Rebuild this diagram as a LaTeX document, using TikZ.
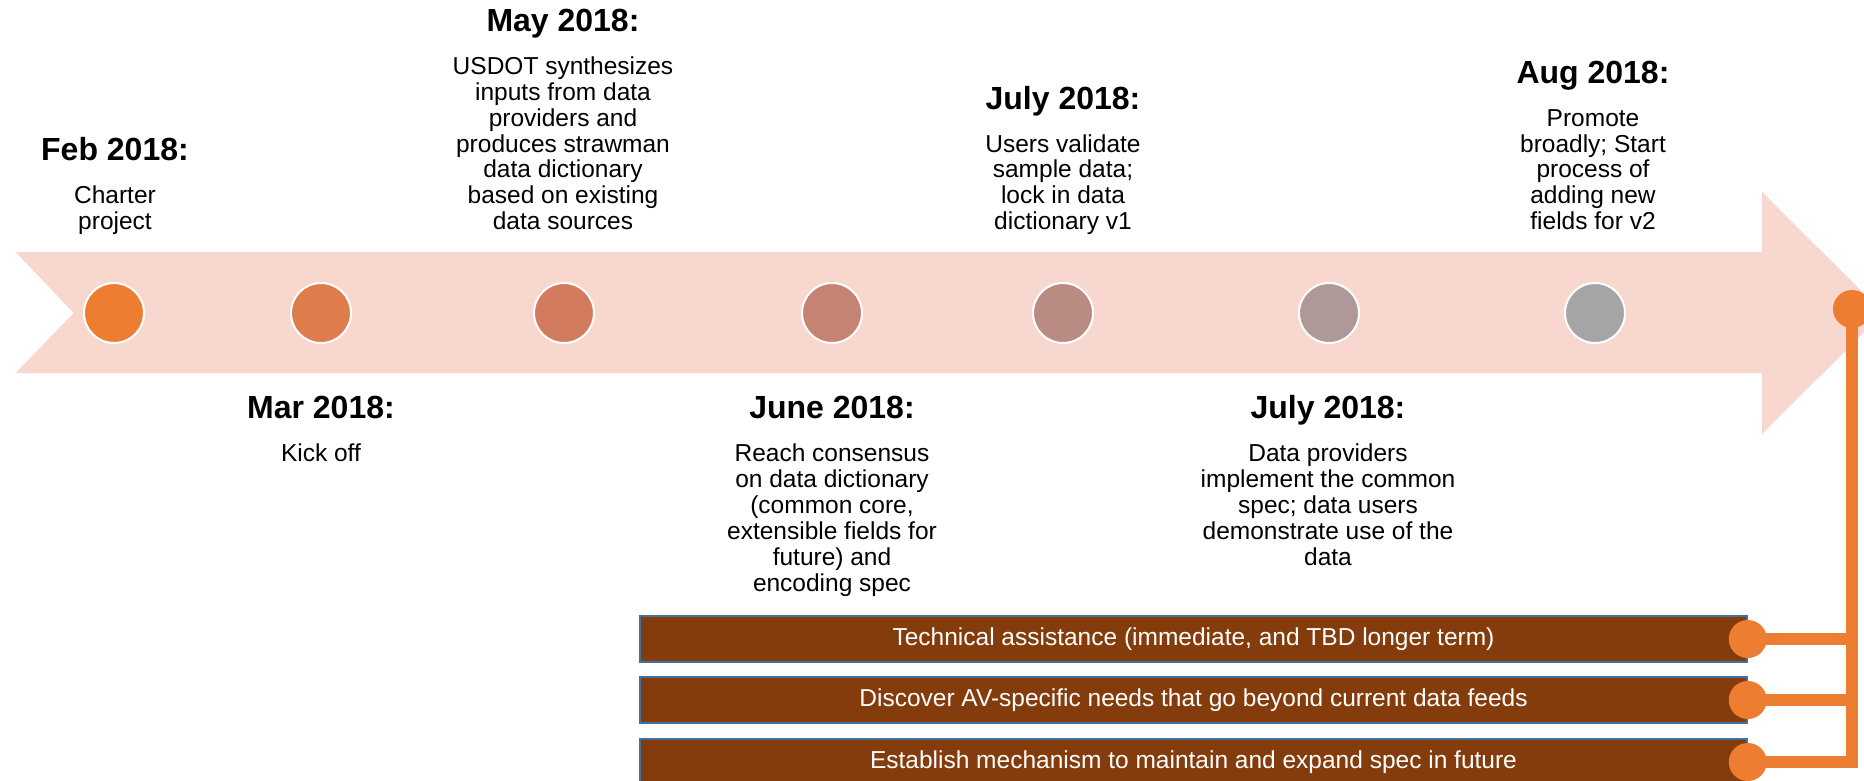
\documentclass[tikz,border=0pt]{standalone}
\usepackage{fontspec}
\setmainfont{Liberation Sans}
\definecolor{band}{HTML}{F8D8CE}
\definecolor{tlorange}{HTML}{ED7D31}
\definecolor{cA}{HTML}{ED7D31}
\definecolor{cB}{HTML}{DE7C4C}
\definecolor{cC}{HTML}{D27B5F}
\definecolor{cD}{HTML}{C58373}
\definecolor{cE}{HTML}{BA8B83}
\definecolor{cF}{HTML}{AE9898}
\definecolor{cG}{HTML}{A5A5A5}
\definecolor{boxfill}{HTML}{843C0C}
\definecolor{boxedge}{HTML}{41719C}
\begin{document}
\begin{tikzpicture}[x=1pt,y=-1pt,
  body/.style={font=\fontsize{24.5}{25}\selectfont, anchor=base, inner sep=0pt, text=black},
  datetitle/.style={font=\fontsize{32}{34}\selectfont\bfseries, anchor=base, inner sep=0pt, text=black},
  milestone/.style={circle, draw=white, line width=2pt, minimum size=60pt, inner sep=0pt},
  taskbox/.style={rectangle, fill=boxfill, draw=boxedge, line width=1.5pt, minimum width=1107pt, minimum height=46pt, inner sep=0pt, text=white, font=\fontsize{24.5}{25}\selectfont},
  enddot/.style={circle, fill=tlorange, minimum size=38pt, inner sep=0pt},
  conn/.style={draw=tlorange, line width=12pt, line join=miter, line cap=butt}
]
\useasboundingbox (0,0) rectangle (1864,781);
\clip (0,0) rectangle (1864,781);
\fill[white] (0,0) rectangle (1864,781);

% band arrow
\fill[band] (15.6,252) -- (1762,252) -- (1762,192) -- (1883.5,313) -- (1762,434) -- (1762,373) -- (15.6,373) -- (73.7,313) -- cycle;

% milestones
\node[milestone, fill=cA] (c1) at (114,313) {};
\node[milestone, fill=cB] (c2) at (321,313) {};
\node[milestone, fill=cC] (c3) at (564,313) {};
\node[milestone, fill=cD] (c4) at (832,313) {};
\node[milestone, fill=cE] (c5) at (1063,313) {};
\node[milestone, fill=cF] (c6) at (1329,313) {};
\node[milestone, fill=cG] (c7) at (1595,313) {};

% top labels (pitch 25.8, last baseline 229.5)
\node[datetitle] (febT) at (115,160.7) {Feb 2018:};
\foreach \t [count=\i] in {Charter, project}
  \node[body] (feb\i) at (115,{203.7+25.8*(\i-1)}) {\t};

\node[datetitle] (mayT) at (563,31.7) {May 2018:};
\foreach \t [count=\i] in {USDOT synthesizes, inputs from data, providers and, produces strawman, data dictionary, based on existing, data sources}
  \node[body] (may\i) at (563,{74.7+25.8*(\i-1)}) {\t};

\node[datetitle] (julaT) at (1063,109.1) {July 2018:};
\foreach \t [count=\i] in {Users validate, sample data;, lock in data, dictionary v1}
  \node[body] (jula\i) at (1063,{152.1+25.8*(\i-1)}) {\t};

\node[datetitle] (augT) at (1593,83.3) {Aug 2018:};
\foreach \t [count=\i] in {Promote, broadly; Start, process of, adding new, fields for v2}
  \node[body] (aug\i) at (1593,{126.3+25.8*(\i-1)}) {\t};

% bottom labels
\node[datetitle] (marT) at (321,418) {Mar 2018:};
\node[body] (mar1) at (321,461) {Kick off};

\node[datetitle] (junT) at (832,418) {June 2018:};
\foreach \t [count=\i] in {Reach consensus, on data dictionary, {(common core,}, extensible fields for, future) and, encoding spec}
  \node[body] (jun\i) at (832,{461+26*(\i-1)}) {\t};

\node[datetitle] (julbT) at (1328,418) {July 2018:};
\foreach \t [count=\i] in {Data providers, implement the common, spec; data users, demonstrate use of the, data}
  \node[body] (julb\i) at (1328,{461+26*(\i-1)}) {\t};

% task boxes
\node[taskbox] (b1) at (1193.5,639) {Technical assistance (immediate, and TBD longer term)};
\node[taskbox] (b2) at (1193.5,700) {Discover AV-specific needs that go beyond current data feeds};
\node[taskbox] (b3) at (1193.5,762) {Establish mechanism to maintain and expand spec in future};

% connector end points
\coordinate (p0) at (1852,309);
\coordinate (p1) at (b1.east);
\coordinate (p2) at (b2.east);
\coordinate (p3) at (b3.east);

\draw[conn] (p0) -- (p0 |- p3) -- (p3);
\draw[conn] (p1) -- (p1 -| p0);
\draw[conn] (p2) -- (p2 -| p0);

\node[enddot] (d0) at (p0) {};
\node[enddot] (d1) at (p1) {};
\node[enddot] (d2) at (p2) {};
\node[enddot] (d3) at (p3) {};
\end{tikzpicture}
\end{document}
